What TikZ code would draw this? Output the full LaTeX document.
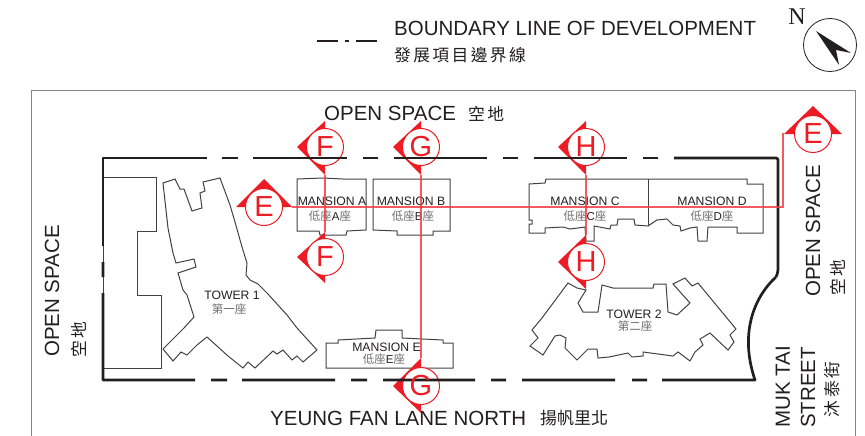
\documentclass[tikz,border=0pt]{standalone}
\usepackage{fontspec}
\setmainfont{Liberation Sans}
\newfontfamily\cjk{Noto Sans CJK TC}
\newfontfamily\cjkw[LetterSpace=14]{Noto Sans CJK TC}
\newfontfamily\serifN{Liberation Serif}
\definecolor{ink}{HTML}{231F20}
\definecolor{redm}{HTML}{ED1C24}
\tikzset{
  bline/.style={draw=ink,line width=2.7pt,line join=round},
  bldg/.style={draw=ink!85,line width=1pt,line join=miter},
  frameln/.style={draw=ink!55,line width=1pt},
  lab/.style={inner sep=0pt,text=ink},
  biglab/.style={lab,font=\fontsize{20.5}{22}\selectfont},
  smlab/.style={lab,font=\fontsize{12.2}{13}\selectfont},
  cjklab/.style={lab,text=ink!65,font=\fontsize{11.5}{12}\selectfont\cjk},
  cjkbig/.style={lab,font=\fontsize{16.8}{18}\selectfont\cjkw},
  cjktight/.style={lab,font=\fontsize{17}{18}\selectfont\cjk},
  ring/.style={circle,draw=redm,fill=white,line width=1pt,minimum size=37pt,inner sep=0pt},
  letr/.style={inner sep=0pt,text=redm,font=\fontsize{29}{30}\selectfont},
  tri/.style={fill=redm,draw=none},
  secline/.style={draw=redm!85!white,line width=1.1pt,opacity=.85},
}
\begin{document}
\begin{tikzpicture}[x=1pt,y=-1pt]
\useasboundingbox (0,0) rectangle (865,436);
\fill[white] (0,0) rectangle (865,436);
% frame
\draw[frameln] (31,436) -- (31,90.7) -- (855,90.7) -- (855,436);
% legend
\coordinate (la) at (317,41); \coordinate (lb) at (338,41); \coordinate (lc) at (345,41);
\coordinate (ld) at (349,41); \coordinate (le) at (356,41); \coordinate (lf) at (377,41);
\draw[bline] (la) -- (lb) (lc) -- (ld) (le) -- (lf);
\node[biglab,anchor=west] (legen) at (394,28.5) {BOUNDARY LINE OF DEVELOPMENT};
\node[cjkbig,anchor=west] (legcn) at (394,55) {發展項目邊界線};
% compass
\node[circle,draw=ink,line width=.8pt,minimum size=53pt,inner sep=0pt] (comp) at (830,45) {};
\fill[ink] (816,31) -- (851,53) -- (836,50) -- (839,65) -- cycle;
\node[lab,font=\fontsize{24}{26}\selectfont\serifN] (north) at (797,17) {N};
% site block
\draw[bldg] (103,177) -- (156,177) -- (156,231) -- (137,231) -- (137,295) -- (161,295) -- (161,368) -- (103,368);
\draw[bldg] (103,158) -- (103,380);
% tower 1
\draw[bldg] (163,183) -- (175,179) -- (177,183) -- (180,189) -- (184,189) -- (192,211) -- (202,208) -- (200,193) -- (205,191) -- (203,182) -- (220,178) -- (230,205) -- (235,222) -- (242,247) -- (247,263) -- (246,275) -- (250,280) -- (258,284) -- (267,293) -- (287,315) -- (297,328) -- (317,350) -- (303,362) -- (297,356) -- (292,360) -- (283,350) -- (277,354) -- (273,351) -- (255,368) -- (248,362) -- (243,368) -- (228,356) -- (207,337) -- (197,345) -- (187,355) -- (181,352) -- (173,361) -- (163,349) -- (184,328) -- (194,317) -- (187,295) -- (183,290) -- (178,273) -- (196,267) -- (194,259) -- (176,263) -- (173,253) -- (168,228) -- cycle;
% mansions
\draw[bldg] (297,179) -- (323,178) -- (343,179) -- (366,179) -- (366,230) -- (347,231) -- (346,235) -- (320,235) -- (319,231) -- (297,231) -- cycle;
\draw[bldg] (373,179) -- (450,179) -- (450,231) -- (433,231) -- (433,235) -- (397,235) -- (397,231) -- (373,230) -- cycle;
\draw[bldg] (529,184) -- (545,183) -- (546,179) -- (648,179) -- (747,179) -- (747,184) -- (763,184) -- (763,233) -- (737,233) -- (737,227) -- (723,227) -- (708,227) -- (707,241) -- (698,241) -- (697,227) -- (690,228) -- (681,231) -- (680,226) -- (673,225) -- (667,219) -- (657,220) -- (648,226) -- (635,225) -- (634,219) -- (618,219) -- (617,225) -- (611,225) -- (610,229) -- (594,226) -- (594,241) -- (586,241) -- (585,227) -- (578,228) -- (570,229) -- (563,227) -- (545,228) -- (545,233) -- (529,233) -- (529,224) -- (532,224) -- (532,220) -- (529,220) -- cycle;
\draw[bldg] (648,179) -- (648,226);
\draw[bldg] (326,343) -- (338,343) -- (338,340) -- (375,338) -- (376,330) -- (402,330) -- (402,338) -- (443,340) -- (443,343) -- (453,343) -- (453,368) -- (326,368) -- cycle;
% tower 2
\draw[bldg] (568,283) -- (577,288) -- (586,290) -- (578,303) -- (583,312) -- (598,312) -- (602,285) -- (613,288) -- (653,288) -- (654,284) -- (666,284) -- (668,312) -- (677,315) -- (690,303) -- (673,284) -- (685,278) -- (692,286) -- (698,283) -- (736,329) -- (730,335) -- (734,342) -- (728,350) -- (710,333) -- (700,339) -- (703,345) -- (695,352) -- (690,361) -- (678,352) -- (673,356) -- (643,352) -- (643,356) -- (632,357) -- (628,353) -- (609,357) -- (598,358) -- (597,349) -- (588,349) -- (577,360) -- (565,348) -- (566,338) -- (560,335) -- (555,336) -- (543,355) -- (530,346) -- (538,338) -- (532,330) -- (542,318) -- cycle;
% texts
\node[biglab,anchor=west] (os1) at (324,113) {OPEN SPACE};
\node[cjkbig,anchor=west] (os1c) at (468,114) {空地};
\node[biglab,rotate=90] (os2) at (52,291) {OPEN SPACE};
\node[cjkbig,rotate=90] (os2c) at (79,339.5) {空地};
\node[biglab,rotate=90] (os3) at (813,231) {OPEN SPACE};
\node[cjkbig,rotate=90] (os3c) at (838,278) {空地};
\node[biglab,anchor=west] (yf) at (270,418) {YEUNG FAN LANE NORTH};
\node[cjktight,anchor=west] (yfc) at (540,418) {揚帆里北};
\node[biglab,rotate=90,anchor=west] (muk) at (783,428) {MUK TAI};
\node[biglab,rotate=90,anchor=west] (st) at (808,428) {STREET};
\node[cjkbig,rotate=90,anchor=center] (mc) at (832,389.5) {沐泰街};
\node[smlab] (ma) at (332,201) {MANSION A};
\node[cjklab] (mac) at (330,216) {低座\textcolor{ink}{\fontspec{Liberation Sans}A}座};
\node[smlab] (mb) at (411,201) {MANSION B};
\node[cjklab] (mbc) at (413,216) {低座\textcolor{ink}{\fontspec{Liberation Sans}B}座};
\node[smlab] (mcc) at (585,201) {MANSION C};
\node[cjklab] (mcz) at (585,216) {低座\textcolor{ink}{\fontspec{Liberation Sans}C}座};
\node[smlab] (md) at (712,201) {MANSION D};
\node[cjklab] (mdc) at (712,216) {低座\textcolor{ink}{\fontspec{Liberation Sans}D}座};
\node[smlab] (me) at (386.5,347) {MANSION E};
\node[cjklab] (mec) at (384,359) {低座\textcolor{ink}{\fontspec{Liberation Sans}E}座};
\node[smlab] (t1) at (232,295) {TOWER 1};
\node[cjklab] (t1c) at (229,309) {第一座};
\node[smlab] (t2) at (634,314) {TOWER 2};
\node[cjklab] (t2c) at (635,326) {第二座};
% marker tips
\coordinate (Ftb) at (325,175); \coordinate (Flt) at (325,232);
\coordinate (Gtb) at (421,175); \coordinate (Glt) at (421,358);
\coordinate (Htb) at (586,175); \coordinate (Hlt) at (586,235);
\coordinate (Elr) at (292,207); \coordinate (Erl) at (784,134);
% triangles
\fill[tri] (297,147) -- (325,121) -- (Ftb) -- cycle;
\fill[tri] (297,257) -- (Flt) -- (325,283) -- cycle;
\fill[tri] (393,147) -- (421,121) -- (Gtb) -- cycle;
\fill[tri] (393,386) -- (Glt) -- (421,413) -- cycle;
\fill[tri] (558,147) -- (586,121) -- (Htb) -- cycle;
\fill[tri] (558,262) -- (Hlt) -- (586,289) -- cycle;
\fill[tri] (236,207) -- (264,179) -- (Elr) -- cycle;
\fill[tri] (Erl) -- (813,106) -- (842,134) -- cycle;
% rings
\foreach \n/\x/\y in {rF1/325/147,rF2/325/257,rG1/421/147,rG2/421/386,rH1/586/147,rH2/586/262,rE1/264/207,rE2/813/134}
  \node[ring] (\n) at (\x,\y) {};
% boundary
\draw[bline] (103,246) -- (103,158) -- (207,158) (222,158) -- (238,158) (253,158) -- (347,158) (363,158) -- (378,158) (394,158) -- (487,158) (503,158) -- (518,158) (534,158) -- (627,158) (643,158) -- (658,158);
\draw[bline,rounded corners=2pt] (674,158) -- (778,158) -- (778,272) -- (776,277);
\draw[bline] (776,277) .. controls (757,294) and (738,330) .. (755,380) -- (662,380) (647,380) -- (632,380) (615,380) -- (522,380) (506,380) -- (491,380) (475,380) -- (383,380) (367,380) -- (351,380) (335,380) -- (242,380) (227,380) -- (211,380) (195,380) -- (103,380) -- (103,293) (103,277) -- (103,262);
% letters
\node[letr] (lF1) at (rF1) {F};
\node[letr] (lF2) at (rF2) {F};
\node[letr] (lG1) at (rG1) {G};
\node[letr] (lG2) at (rG2) {G};
\node[letr] (lH1) at (rH1) {H};
\node[letr] (lH2) at (rH2) {H};
\node[letr] (lE1) at (rE1) {E};
\node[letr] (lE2) at (rE2) {E};
% section lines
\coordinate (ec1) at (783,207); \coordinate (ec2) at (783,134);
\draw[secline] (Ftb) -- (Flt);
\draw[secline] (Gtb) -- (Glt);
\draw[secline] (Htb) -- (Hlt);
\draw[secline] (Elr) -- (ec1) -- (ec2) -- (Erl);
\end{tikzpicture}
\end{document}
